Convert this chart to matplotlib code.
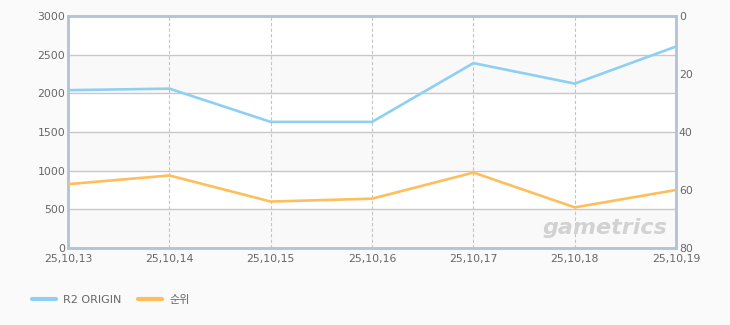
import matplotlib
matplotlib.use("Agg")
from matplotlib import pyplot as plt

plt.rcParams['font.family'] = ['DejaVu Sans', 'Noto Sans CJK KR']

dates = ['25,10,13', '25,10,14', '25,10,15', '25,10,16', '25,10,17', '25,10,18', '25,10,19']
users = [2040, 2060, 1630, 1630, 2390, 2125, 2605]
ranks = [58, 55, 64, 63, 54, 66, 60]

blue = '#8ed0f2'
orange = '#ffbe5c'
spine = '#b3c4d8'
txt = '#666666'

fig = plt.figure(figsize=(7.3, 3.25), dpi=100, facecolor='#fafafa')
ax = fig.add_axes([0.0932, 0.237, 0.833, 0.714])
ax.set_facecolor('white')
x = list(range(len(dates)))

# alternating bands between gridlines
for lo in range(0, 3000, 1000):
    ax.axhspan(lo, lo + 500, color='#f9f9f9', zorder=0, lw=0)
ax.set_ylim(0, 3000)
ax.set_xlim(0, len(dates) - 1)
ax.set_yticks(range(0, 3001, 500))
ax.set_xticks(x)
ax.set_xticklabels(dates)
ax.yaxis.grid(True, color='#c8c8c8', lw=1)
ax.xaxis.grid(True, color='#c4c4c4', lw=0.8, ls=(0, (3, 2)))
ax.set_axisbelow(True)

ax.plot(x, users, color=blue, lw=1.9, zorder=3, label='R2 ORIGIN', solid_capstyle='round')

ax2 = ax.twinx()
ax2.set_ylim(80, 0)
ax2.set_yticks(range(0, 81, 20))
ax2.plot(x, ranks, color=orange, lw=1.9, zorder=3, label='순위', solid_capstyle='round')

for a in (ax, ax2):
    for s in a.spines.values():
        s.set_color(spine)
        s.set_linewidth(1.8)
    a.tick_params(length=0, labelsize=7.8, colors=txt, pad=2)
ax.tick_params(axis='x', pad=4)

ax.text(0.985, 0.085, 'gametrics', transform=ax.transAxes, ha='right', va='center',
        fontsize=16, fontweight='bold', style='italic', color='#d2d2d2', zorder=1)

h1, l1 = ax.get_legend_handles_labels()
h2, l2 = ax2.get_legend_handles_labels()
leg = fig.legend(h1 + h2, l1 + l2, loc='lower left', bbox_to_anchor=(0.03, 0.03), ncol=2,
                 frameon=False, fontsize=8, handlelength=2.2, handletextpad=0.6, columnspacing=1.5)
for t in leg.get_texts():
    t.set_color(txt)
for l in leg.get_lines():
    l.set_linewidth(3)

fig.savefig('out.png', dpi=100, facecolor=fig.get_facecolor())
